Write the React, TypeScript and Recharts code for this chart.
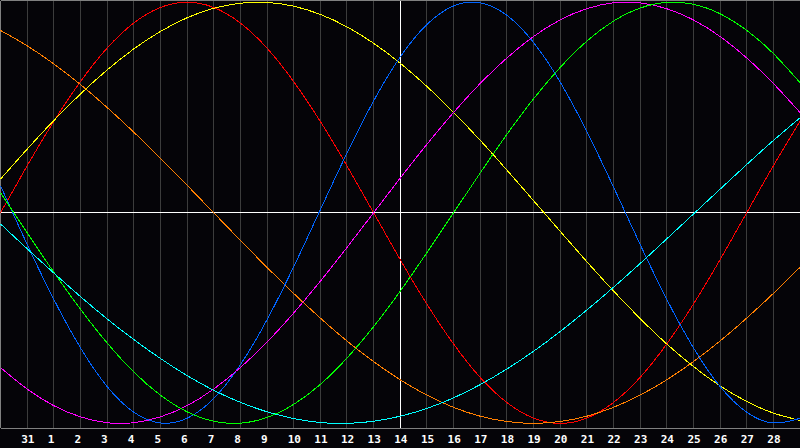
import React from 'react';
import { LineChart, Line, XAxis, YAxis, CartesianGrid, ReferenceLine } from 'recharts';

// one entry per day column, left edge to right edge
const days = ['30', '31', '1', '2', '3', '4', '5', '6', '7', '8', '9', '10', '11', '12', '13', '14',
  '15', '16', '17', '18', '19', '20', '21', '22', '23', '24', '25', '26', '27', '28', '29'];
const tickIdx = [1, 2, 3, 4, 5, 6, 7, 8, 9, 10, 11, 12, 13, 14, 15, 16, 17, 18, 19, 20, 21, 22, 23, 24, 25, 26, 27, 28, 29];

const red = [0, 0.223, 0.434, 0.623, 0.782, 0.901, 0.975, 1, 0.975, 0.901, 0.782, 0.623, 0.434, 0.223, 0,
  -0.223, -0.434, -0.623, -0.782, -0.901, -0.975, -1, -0.975, -0.901, -0.782, -0.623, -0.434, -0.223, 0, 0.223, 0.434];
const orange = [0.866, 0.793, 0.707, 0.609, 0.5, 0.383, 0.259, 0.131, 0, -0.131, -0.259, -0.383, -0.5, -0.609, -0.707,
  -0.793, -0.866, -0.924, -0.966, -0.991, -1, -0.991, -0.966, -0.924, -0.866, -0.793, -0.707, -0.609, -0.5, -0.383, -0.259];
const yellow = [0.16, 0.302, 0.438, 0.564, 0.678, 0.778, 0.861, 0.926, 0.971, 0.995, 0.999, 0.981, 0.942, 0.883, 0.805,
  0.71, 0.6, 0.477, 0.344, 0.203, 0.058, -0.088, -0.232, -0.371, -0.502, -0.623, -0.73, -0.822, -0.896, -0.951, -0.986];
const blue = [0.129, -0.15, -0.411, -0.641, -0.825, -0.947, -0.998, -0.976, -0.882, -0.722, -0.508, -0.257, 0.014, 0.283, 0.531,
  0.74, 0.894, 0.982, 0.997, 0.938, 0.809, 0.621, 0.386, 0.123, -0.15, -0.411, -0.641, -0.825, -0.947, -0.998, -0.976];
const magenta = [-0.735, -0.837, -0.916, -0.969, -0.997, -0.997, -0.969, -0.916, -0.837, -0.735, -0.614, -0.476, -0.325, -0.165, 0,
  0.165, 0.325, 0.476, 0.614, 0.735, 0.837, 0.916, 0.969, 0.997, 0.997, 0.969, 0.916, 0.837, 0.735, 0.614, 0.476];
const green = [0.095, -0.095, -0.282, -0.458, -0.618, -0.756, -0.866, -0.945, -0.99, -0.999, -0.972, -0.91, -0.815, -0.69, -0.541,
  -0.372, -0.189, 0, 0.189, 0.372, 0.541, 0.69, 0.815, 0.91, 0.972, 0.999, 0.99, 0.945, 0.866, 0.756, 0.618];
const cyan = [-0.053, -0.171, -0.286, -0.398, -0.504, -0.602, -0.692, -0.773, -0.843, -0.9, -0.945, -0.977, -0.996, -1, -0.99,
  -0.966, -0.929, -0.879, -0.816, -0.742, -0.658, -0.564, -0.462, -0.354, -0.241, -0.124, -0.006, 0.112, 0.229, 0.343, 0.451];

const series = [
  { key: 'red', color: '#ff0000', values: red },
  { key: 'orange', color: '#ff7f00', values: orange },
  { key: 'yellow', color: '#ffff00', values: yellow },
  { key: 'blue', color: '#0064ff', values: blue },
  { key: 'magenta', color: '#ff00ff', values: magenta },
  { key: 'green', color: '#00ff00', values: green },
  { key: 'cyan', color: '#00ffff', values: cyan },
];

const data = days.map((day, i) => {
  const row: any = { i, day };
  series.forEach((s) => { row[s.key] = s.values[i]; });
  return row;
});

const Y_TOP = 1.008;
const Y_BOTTOM = -1.022;

const DayTick = (props: any) => {
  const { x, payload } = props;
  return (
    <text x={x - 6} y={443} textAnchor="start" fill="#ffffff"
      fontFamily="DejaVu Sans Mono" fontWeight="bold" fontSize={11}>
      {days[payload.value]}
    </text>
  );
};

export default function App() {
  return (
    <div style={{ position: 'fixed', left: 0, top: 0, width: 800, height: 448, background: '#050408' }}>
      {/* the original is drawn without anti-aliasing */}
      <style>{'.recharts-wrapper path, .recharts-wrapper line { shape-rendering: crispEdges; }'}</style>
      <LineChart width={800} height={448} data={data} margin={{ top: 0.5, right: 0, bottom: 0, left: 0.5 }}>
        <CartesianGrid horizontal={false} stroke="#3c3c3c" />
        <XAxis dataKey="i" type="number" domain={[0, 30]} ticks={tickIdx} height={20}
          axisLine={{ stroke: '#808080' }} tickLine={false} tick={<DayTick />} interval={0} />
        <YAxis hide domain={[Y_BOTTOM, Y_TOP]} />
        <ReferenceLine x={0} stroke="#808080" />
        <ReferenceLine y={Y_TOP} stroke="#808080" />
        <ReferenceLine x={15} stroke="#ffffff" />
        <ReferenceLine y={0} stroke="#ffffff" />
        {series.map((s) => (
          <Line key={s.key} dataKey={s.key} type="natural" stroke={s.color} strokeWidth={1}
            dot={false} activeDot={false} isAnimationActive={false} />
        ))}
      </LineChart>
    </div>
  );
}
